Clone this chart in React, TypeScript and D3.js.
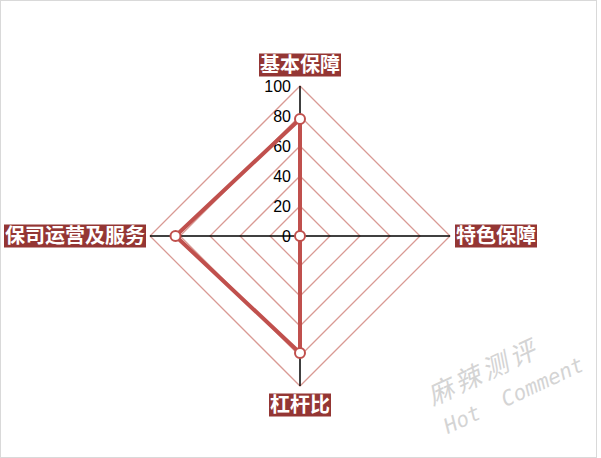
import { useEffect, useRef } from 'react'
import * as d3 from 'd3'

const categories = ['基本保障', '特色保障', '杠杆比', '保司运营及服务']
const values = [78, 0, 78, 83]
const ticks = [0, 20, 40, 60, 80, 100]

const COLORS = {
  grid: '#d99a94',
  axis: '#000000',
  line: '#c0504d',
  labelBg: '#943634',
  border: '#d9d9d9',
  watermark: '#d4d4d4',
}

export default function App() {
  const svgRef = useRef<SVGSVGElement>(null)

  useEffect(() => {
    if (!svgRef.current) return
    const width = 601
    const height = 458
    const cx = 300
    const cy = 236
    const R = 150

    const svg = d3.select(svgRef.current)
    svg.selectAll('*').remove()

    // Frame
    svg.append('rect').attr('x', 0.5).attr('y', 0.5).attr('width', width - 5).attr('height', height - 1)
      .attr('fill', '#fff').attr('stroke', COLORS.border)

    const r = d3.scaleLinear().domain([0, 100]).range([0, R])
    const angle = (i: number) => (i / categories.length) * 2 * Math.PI
    const pt = (i: number, v: number): [number, number] =>
      [cx + r(v) * Math.sin(angle(i)), cy - r(v) * Math.cos(angle(i))]

    const g = svg.append('g')

    // Grid diamonds
    const gridLine = d3.line<[number, number]>()
    ticks.filter(t => t > 0).forEach(t => {
      const pts = categories.map((_, i) => pt(i, t))
      g.append('path').attr('d', gridLine(pts) + 'Z')
        .attr('fill', 'none').attr('stroke', COLORS.grid).attr('stroke-width', 1.3)
    })

    // Axes
    categories.forEach((_, i) => {
      const [x2, y2] = pt(i, 100)
      g.append('line').attr('x1', cx).attr('y1', cy).attr('x2', x2).attr('y2', y2)
        .attr('stroke', COLORS.axis).attr('stroke-width', 1.5)
    })

    // Tick labels
    ticks.forEach(t => {
      g.append('text').attr('x', cx - 9).attr('y', cy - r(t)).attr('dy', '0.36em')
        .attr('text-anchor', 'end').attr('font-size', 16)
        .attr('font-family', 'Liberation Sans, Arial, sans-serif').attr('fill', '#000')
        .text(t)
    })

    // Data polygon
    const dataPts = values.map((v, i) => pt(i, v))
    g.append('path').attr('d', gridLine(dataPts) + 'Z')
      .attr('fill', 'none').attr('stroke', COLORS.line).attr('stroke-width', 4)
      .attr('stroke-linejoin', 'round')

    g.selectAll('circle.pt').data(dataPts).join('circle')
      .attr('class', 'pt')
      .attr('cx', d => d[0]).attr('cy', d => d[1]).attr('r', 5)
      .attr('fill', '#fff').attr('stroke', COLORS.line).attr('stroke-width', 2)

    // Category labels
    const labelPos: { x: number; y: number; anchor: string }[] = [
      { x: cx, y: 65, anchor: 'middle' },
      { x: 456, y: cy, anchor: 'start' },
      { x: cx, y: 405, anchor: 'middle' },
      { x: 145, y: cy, anchor: 'end' },
    ]
    categories.forEach((c, i) => {
      const p = labelPos[i]
      const lg = g.append('g')
      const rect = lg.append('rect').attr('fill', COLORS.labelBg)
      const txt = lg.append('text').attr('x', p.x).attr('y', p.y).attr('dy', '0.36em')
        .attr('text-anchor', p.anchor).attr('font-size', 20).attr('font-weight', 'bold')
        .attr('font-family', 'Noto Sans CJK SC, sans-serif').attr('fill', '#fff')
        .text(c)
      const bb = (txt.node() as SVGTextElement).getBBox()
      rect.attr('x', bb.x - 1).attr('y', p.y - 11.5).attr('width', bb.width + 2).attr('height', 23)
    })

    // Watermark
    const wm = svg.append('g').attr('transform', 'translate(448,434) rotate(-25)')
      .attr('fill', COLORS.watermark)
    wm.append('text').attr('x', -2).attr('y', -32).attr('font-size', 26)
      .attr('font-family', 'Noto Sans CJK SC, sans-serif').attr('font-style', 'italic')
      .attr('letter-spacing', 4).text('麻辣测评')
    wm.append('text').attr('x', 0).attr('y', 0).attr('font-size', 21)
      .attr('font-family', 'DejaVu Sans Mono, monospace').attr('font-style', 'italic')
      .attr('xml:space', 'preserve').text('Hot  Comment')
  }, [])

  return (
    <svg ref={svgRef} width={601} height={458}
      style={{ position: 'absolute', left: 0, top: 0, background: '#fff' }} />
  )
}
